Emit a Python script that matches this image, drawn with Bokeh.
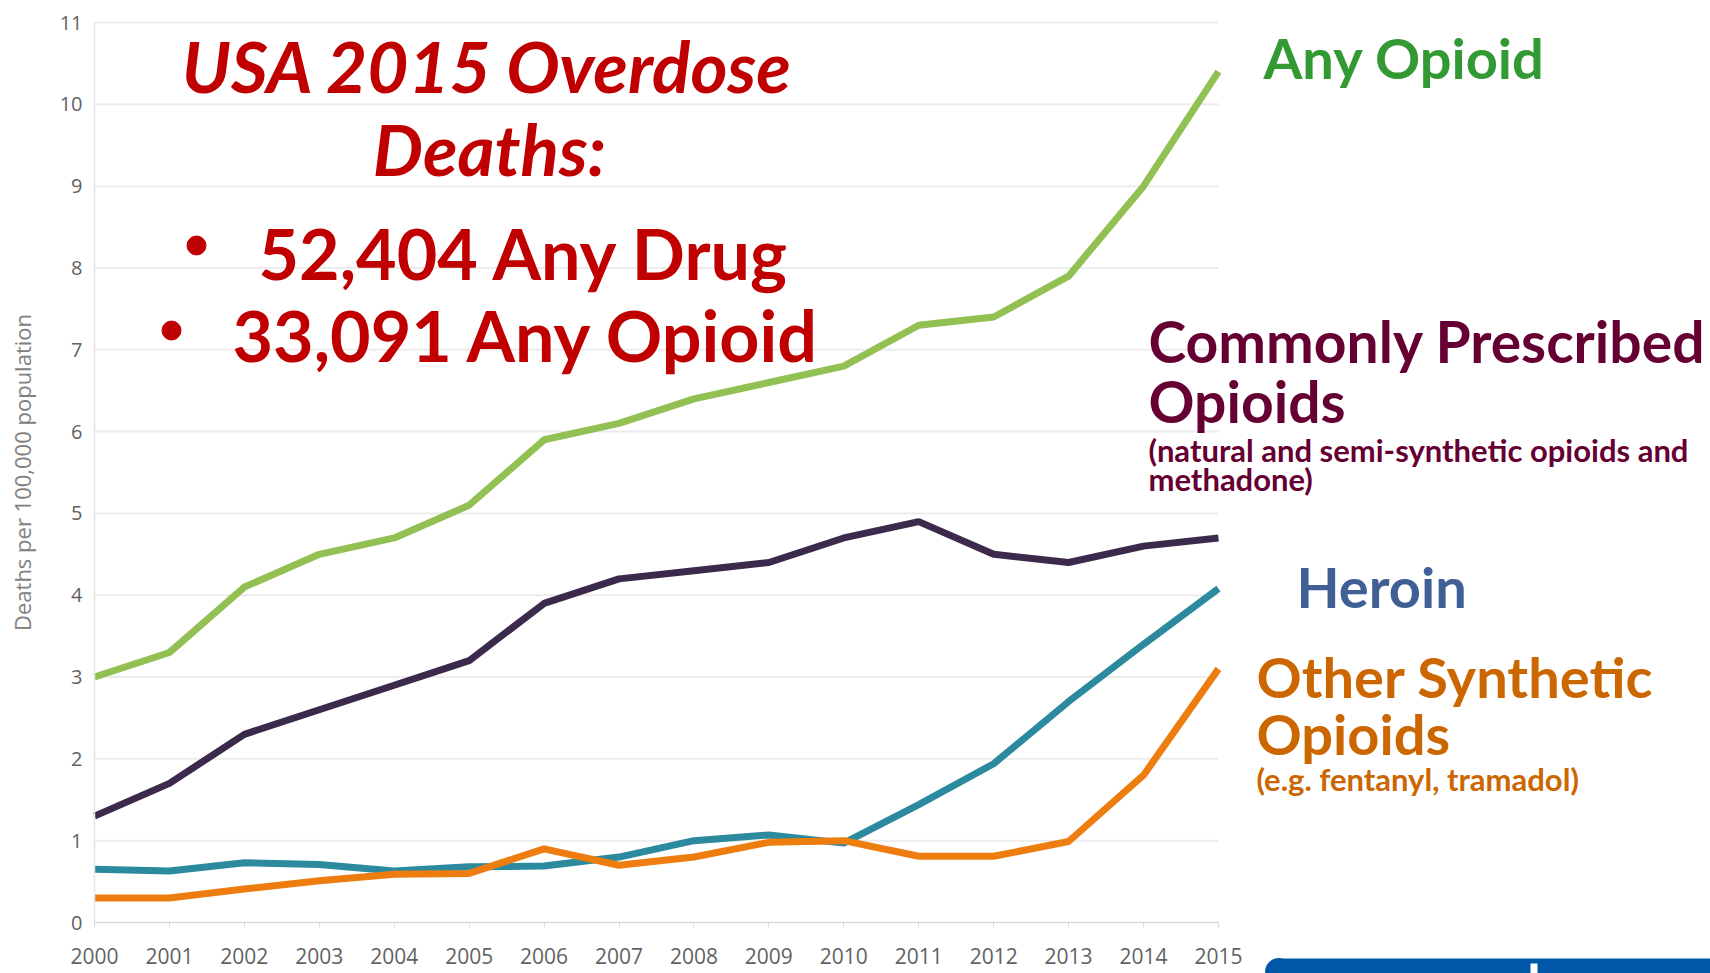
from bokeh.plotting import figure
from bokeh.models import Range1d, FixedTicker
from bokeh.core.properties import value
from bokeh.embed import file_html
from bokeh.resources import INLINE

# ---------------- data ----------------
years = list(range(2000, 2016))
any_opioid = [3.0, 3.3, 4.1, 4.5, 4.7, 5.1, 5.9, 6.1, 6.4, 6.6, 6.8, 7.3, 7.4, 7.9, 9.0, 10.4]
prescribed = [1.3, 1.7, 2.3, 2.6, 2.9, 3.2, 3.9, 4.2, 4.3, 4.4, 4.7, 4.9, 4.5, 4.4, 4.6, 4.7]
heroin = [0.65, 0.63, 0.73, 0.71, 0.63, 0.68, 0.69, 0.80, 1.0, 1.07, 0.97, 1.44, 1.94, 2.7, 3.4, 4.08]
synthetic = [0.30, 0.30, 0.41, 0.51, 0.59, 0.60, 0.90, 0.70, 0.80, 0.98, 1.0, 0.81, 0.81, 0.99, 1.8, 3.1]
y_ticks = list(range(0, 12))
grid_levels = list(range(1, 12))
y_title = "Deaths per 100,000 population"

# ---------------- layout helpers (page pixels) ----------------
W, H = 1710, 973
LEFT, TOP = 94, 22          # pixel column of 2000 and pixel row of y = 11
ZERO_Y = 922                # pixel row of y = 0
PX_YEAR = 74.93
PX_UNIT = (ZERO_Y - TOP) / 11.0


def X(fx):
    return 2000 + (fx - LEFT) / PX_YEAR


def Y(fy):
    return (ZERO_Y - fy) / PX_UNIT


p = figure(width=W, height=H, output_backend="svg", toolbar_location=None,
           x_range=Range1d(X(0), X(W)), y_range=Range1d(Y(H), Y(0)),
           min_border_left=0, min_border_right=0, min_border_top=0,
           min_border_bottom=0)
p.outline_line_color = None
p.xgrid.visible = False
p.ygrid.visible = False
p.background_fill_color = "white"
p.border_fill_color = "white"

# axes
tick_font = "Open Sans"
p.xaxis.fixed_location = 0
p.xaxis.ticker = FixedTicker(ticks=years)
p.xaxis.bounds = (2000, 2015)
p.xaxis.axis_line_color = "#d9d9d9"
p.xaxis.axis_line_width = 1.5
p.xaxis.major_tick_line_color = "#d9d9d9"
p.xaxis.major_tick_out = 5
p.xaxis.major_tick_in = 0
p.xaxis.minor_tick_line_color = None
p.xaxis.major_label_text_font = tick_font
p.xaxis.major_label_text_font_size = "21px"
p.xaxis.major_label_text_color = "#626262"
p.xaxis.major_label_standoff = 20

p.yaxis.fixed_location = 2000
p.yaxis.ticker = FixedTicker(ticks=y_ticks)
p.yaxis.bounds = (0, 11)
p.yaxis.axis_line_color = "#e6e6e6"
p.yaxis.axis_line_width = 1.5
p.yaxis.major_tick_line_color = None
p.yaxis.minor_tick_line_color = None
p.yaxis.major_tick_out = 0
p.yaxis.major_tick_in = 0
p.yaxis.major_label_text_font = tick_font
p.yaxis.major_label_text_font_size = "20px"
p.yaxis.major_label_text_color = "#626262"
p.yaxis.major_label_standoff = 12
p.yaxis.axis_label = y_title
p.yaxis.axis_label_text_font = tick_font
p.yaxis.axis_label_text_font_style = "normal"
p.yaxis.axis_label_text_font_size = "22px"
p.yaxis.axis_label_text_color = "#808080"
p.yaxis.axis_label_standoff = 20

# gridlines limited to the data span
p.segment(x0=[2000] * len(grid_levels), x1=[2015] * len(grid_levels),
          y0=grid_levels, y1=grid_levels, line_color="#ececec", line_width=2)

# series
p.line(years, heroin, line_color="#2c8a9f", line_width=7)
p.line(years, synthetic, line_color="#ee7d10", line_width=7)
p.line(years, prescribed, line_color="#3b2a4b", line_width=7)
p.line(years, any_opioid, line_color="#92c052", line_width=7)

LATO = value("Lato")


def txt(fx, fy, s, color, size, style="bold", align="left"):
    fy_adj = fy - (0.43 * size - 5)
    p.text(x=[X(fx)], y=[Y(fy_adj)], text=[s], text_color=color, text_font=LATO,
           text_font_size=f"{size}px", text_font_style=style, text_align=align,
           text_baseline="alphabetic")


RED = "#c00000"
txt(487, 91, "USA 2015 Overdose", RED, 71, "bold italic", "center")
txt(489, 174, "Deaths:", RED, 71, "bold italic", "center")
p.scatter(x=[X(196), X(171)], y=[Y(245), Y(330)], size=19, color=RED)
txt(258, 278, "52,404 Any Drug", RED, 70)
txt(232, 360, "33,091 Any Opioid", RED, 70)

txt(1263, 76, "Any Opioid", "#339933", 56)
PURPLE = "#660033"
txt(1148, 360, "Commonly Prescribed", PURPLE, 57)
txt(1148, 420, "Opioids", PURPLE, 57)
txt(1148, 458, "(natural and semi-synthetic opioids and", PURPLE, 31)
txt(1148, 487, "methadone)", PURPLE, 31)
txt(1296, 605, "Heroin", "#3f5f95", 56)
ORANGE = "#cc6600"
txt(1256, 695, "Other Synthetic", ORANGE, 56)
txt(1256, 752, "Opioids", ORANGE, 56)
txt(1256, 787, "(e.g. fentanyl, tramadol)", ORANGE, 31)

# cut-off blue badge at bottom right
BLUE = "#0057a8"
p.quad(left=[X(1278)], right=[X(1760)], top=[Y(958)], bottom=[Y(1000)],
       fill_color=BLUE, line_color=None)
p.scatter(x=[X(1278)], y=[Y(971)], size=26, color=BLUE)
p.quad(left=[X(1530)], right=[X(1537)], top=[Y(963)], bottom=[Y(1000)],
       fill_color="white", line_color=None)

open("out.html", "w").write(file_html(p, INLINE))
